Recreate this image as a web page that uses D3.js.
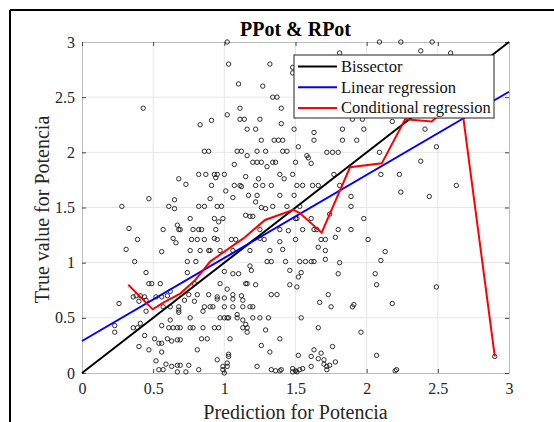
<!DOCTYPE html>
<html>
<head>
<meta charset="utf-8">
<script src="https://cdn.jsdelivr.net/npm/d3@7"></script>
<style>
  html, body { margin: 0; padding: 0; background: #fff; }
  svg { display: block; }
  svg text { font-family: "Liberation Serif", "Times New Roman", serif; }
</style>
</head>
<body>
<svg id="chart" width="554" height="422"></svg>
<script>
// Predicted vs. true values of Potencia: [prediction, true value]
const observations = [
  [1.02,3.00],[1.03,2.80],[1.32,2.80],[1.10,2.62],[1.27,2.60],[1.34,2.50],[1.37,2.50],[0.43,2.40],[1.11,2.40],[1.40,2.40],
  [1.02,2.34],[0.91,2.29],[0.83,2.25],[1.11,2.30],[1.14,2.30],[1.25,2.30],[1.40,2.26],[1.16,2.21],[1.22,2.21],[1.49,2.21],
  [1.26,2.11],[1.35,2.11],[1.38,2.11],[1.41,2.11],[1.52,2.05],[0.86,2.01],[0.89,2.01],[1.09,2.01],[1.12,2.01],[1.16,1.97],
  [1.23,2.01],[1.29,2.01],[1.41,2.01],[1.44,2.01],[1.20,1.91],[1.23,1.91],[1.26,1.91],[1.30,1.87],[1.34,1.91],[1.36,1.91],
  [1.50,1.91],[1.07,1.89],[0.82,1.80],[0.87,1.80],[0.93,1.80],[0.95,1.80],[1.00,1.80],[0.94,1.77],[1.15,1.78],[1.24,1.76],
  [1.39,1.80],[1.48,1.80],[1.42,1.76],[0.68,1.76],[0.73,1.71],[0.91,1.70],[1.07,1.70],[1.11,1.70],[1.12,1.69],[1.22,1.70],
  [1.27,1.70],[1.33,1.70],[1.01,1.65],[1.17,1.61],[1.23,1.61],[1.39,1.61],[1.49,1.61],[1.06,1.59],[0.47,1.58],[0.65,1.57],
  [0.90,1.58],
  [2.09,3.00],[2.24,3.00],[2.46,3.00],[1.81,2.90],[2.38,2.92],[2.59,2.90],[1.48,2.77],[1.48,2.72],[1.90,2.30],[1.97,2.30],
  [2.18,2.28],[1.63,2.18],[1.83,2.21],[1.98,2.21],[2.41,2.21],[1.63,2.11],[1.83,2.11],[1.93,2.11],[2.49,2.05],[1.72,2.00],
  [1.76,2.00],[1.80,2.00],[2.09,2.00],[1.58,1.97],[1.59,1.95],[1.61,1.90],[2.38,1.92],[1.77,1.80],[2.10,1.80],[2.23,1.80],
  [1.51,1.70],[1.55,1.70],[1.62,1.70],[1.66,1.70],[1.81,1.70],[2.63,1.70],[1.89,1.60],[2.24,1.64],[2.44,1.60],
  [0.28,1.51],[0.61,1.51],[0.65,1.49],[0.82,1.51],[0.86,1.51],[0.95,1.51],[0.98,1.51],[1.22,1.55],[1.26,1.50],[1.29,1.49],
  [1.34,1.51],[1.44,1.51],[0.33,1.31],[0.57,1.30],[0.67,1.34],[0.68,1.30],[0.69,1.30],[0.76,1.40],[0.78,1.30],[0.82,1.30],
  [0.84,1.30],[0.93,1.40],[0.96,1.37],[0.99,1.40],[0.94,1.30],[1.15,1.43],[1.18,1.42],[1.20,1.42],[1.25,1.30],[1.39,1.30],
  [1.45,1.29],[0.39,1.21],[0.64,1.22],[0.66,1.18],[0.77,1.21],[0.81,1.21],[0.86,1.21],[0.93,1.22],[0.95,1.21],[1.05,1.21],
  [1.08,1.21],[1.25,1.22],[1.28,1.21],[1.39,1.19],[0.31,1.12],[0.56,1.10],[0.76,1.11],[0.83,1.11],[0.89,1.11],[0.90,1.11],
  [0.97,1.11],[1.06,1.11],[1.18,1.11],[1.32,1.11],[1.41,1.12],[0.37,1.01],[0.74,1.01],[0.80,1.01],[1.00,0.92],[1.06,0.90],
  [1.10,0.90],[1.18,0.97],[1.19,0.93],[1.30,1.01],[1.33,1.01],[1.43,1.01],[1.46,0.93],[0.45,0.91],[0.74,0.91],[0.47,0.81],
  [0.49,0.81],[0.55,0.81],[0.79,0.81],[0.97,0.81],[1.02,0.76],[1.15,0.81],[1.16,0.81],[1.22,0.80],[1.46,0.80],[0.36,0.69],
  [0.38,0.70],[0.41,0.70],[0.44,0.69],[0.52,0.69],[0.56,0.69],[0.60,0.70],[0.62,0.74],[0.75,0.71],[0.81,0.71],[0.89,0.71],
  [0.95,0.69],[1.00,0.68],[1.06,0.71],[1.12,0.70],[1.33,0.71],[1.37,0.71],[0.26,0.63],[0.40,0.65],[0.45,0.66],[0.57,0.60],
  [0.62,0.60],[0.68,0.60],[0.72,0.66],[0.79,0.65],[0.86,0.60],[0.90,0.60],[0.92,0.60],[0.95,0.67],[1.00,0.60],[1.06,0.60],
  [1.13,0.60],[1.18,0.60],[1.20,0.60],[0.45,0.56],[0.68,0.57],[0.68,0.55],[0.85,0.56],[1.06,0.67],[1.13,0.66],[1.09,0.53],
  [0.62,0.48],[0.76,0.50],[0.97,0.50],[1.00,0.50],[1.02,0.50],[1.03,0.50],[1.09,0.50],[1.13,0.48],[1.15,0.44],[1.16,0.41],
  [1.20,0.50],[1.25,0.50],[1.31,0.50],[0.23,0.43],[0.23,0.37],[0.36,0.41],[0.39,0.41],[0.41,0.45],[0.44,0.34],[0.56,0.43],
  [0.61,0.41],[0.64,0.41],[0.67,0.41],[0.69,0.41],[0.76,0.41],[0.78,0.41],[0.85,0.41],[0.93,0.41],[0.96,0.41],[1.13,0.41],
  [0.51,0.31],[0.54,0.27],[0.56,0.27],[0.60,0.31],[0.63,0.29],[0.67,0.30],[0.69,0.30],[0.84,0.31],[0.88,0.31],[1.04,0.31],
  [1.16,0.37],[1.39,0.31],[1.29,0.39],[0.40,0.24],[0.47,0.21],[0.56,0.19],[0.81,0.21],[1.03,0.17],[1.03,0.15],[1.26,0.25],
  [1.32,0.19],[0.52,0.11],[0.59,0.08],[0.63,0.06],[0.67,0.07],[0.69,0.07],[0.75,0.07],[0.95,0.12],[1.02,0.09],[0.99,0.06],
  [1.02,0.06],[0.54,0.03],[0.57,0.03],[0.67,0.01],[0.73,0.01],[0.82,0.03],[0.99,0.03],[1.00,0.00],[1.23,0.06],[1.33,0.03],
  [1.36,0.02],[1.39,0.02],[1.40,0.03],[1.48,0.04],[1.51,0.01],
  [1.53,1.51],[1.89,1.51],[1.50,1.40],[1.51,1.40],[1.61,1.40],[1.74,1.44],[1.98,1.40],[1.55,1.30],[1.63,1.30],[1.65,1.30],
  [1.80,1.30],[1.89,1.30],[1.50,1.21],[1.68,1.21],[1.71,1.21],[1.78,1.23],[2.01,1.21],[1.66,1.14],[1.71,1.11],[2.13,1.10],
  [1.71,1.03],[2.10,1.02],[1.53,1.01],[1.57,1.01],[1.61,1.01],[1.63,1.01],[1.81,1.00],[1.54,0.91],[1.52,0.87],[1.80,0.90],
  [2.06,0.90],[1.51,0.78],[2.07,0.80],[2.49,0.78],[1.73,0.71],[1.67,0.64],[1.75,0.60],[1.91,0.62],[1.90,0.60],[2.18,0.63],
  [1.54,0.50],[1.66,0.41],[1.96,0.37],[1.76,0.24],[1.63,0.21],[1.68,0.18],[1.52,0.16],[1.61,0.15],[1.66,0.13],[1.70,0.12],
  [2.07,0.16],[1.70,0.08],[1.72,0.06],[1.74,0.07],[1.78,0.10],[1.61,0.06],[1.55,0.04],[1.53,0.03],[1.50,0.02],[1.48,0.01],
  [1.72,0.03],[2.21,0.03],[2.20,0.02],[2.90,0.15]
];

// Conditional regression curve (binned means)
const condX = [0.325, 0.497, 0.571, 0.69, 0.794, 0.90, 1.05, 1.134, 1.286, 1.485, 1.53, 1.684, 1.883, 2.106, 2.27, 2.457, 2.66, 2.90];
const condY = [0.80, 0.577, 0.637, 0.72, 0.84, 1.01, 1.145, 1.22, 1.387, 1.478, 1.45, 1.272, 1.865, 1.90, 2.30, 2.28, 2.50, 0.15];

// Ordinary least squares fit
const linIntercept = 0.29;
const linSlope = 0.753;

const axisTicks = [0, 0.5, 1, 1.5, 2, 2.5, 3];
const tickLabels = ["0", "0.5", "1", "1.5", "2", "2.5", "3"];

const legendItems = [
  { label: "Bissector", color: "#000000" },
  { label: "Linear regression", color: "#0000ff" },
  { label: "Conditional regression", color: "#ff0000" }
];

const W = 554, H = 422;
const margin = { top: 42, right: 45, bottom: 49, left: 82 };
const svg = d3.select("#chart");
const serif = '"Liberation Serif", "Times New Roman", serif';

const x = d3.scaleLinear().domain([0, 3]).range([margin.left, W - margin.right]);
const y = d3.scaleLinear().domain([0, 3]).range([H - margin.bottom, margin.top]);

// outer figure frame (top and left edges)
svg.append("line").attr("x1", 10).attr("x2", W).attr("y1", 10).attr("y2", 10)
  .attr("stroke", "#000").attr("stroke-width", 2);
svg.append("line").attr("x1", 10).attr("x2", 10).attr("y1", 10).attr("y2", H)
  .attr("stroke", "#000").attr("stroke-width", 2);

// grid
const grid = svg.append("g");
grid.selectAll(".gx").data(axisTicks.slice(1, -1)).join("line")
  .attr("x1", d => x(d)).attr("x2", d => x(d))
  .attr("y1", y(0)).attr("y2", y(3))
  .attr("stroke", "#e6e6e6").attr("stroke-width", 1);
grid.selectAll(".gy").data(axisTicks.slice(1, -1)).join("line")
  .attr("y1", d => y(d)).attr("y2", d => y(d))
  .attr("x1", x(0)).attr("x2", x(3))
  .attr("stroke", "#e6e6e6").attr("stroke-width", 1);

// axes with inward ticks on all four sides
const fmt = d => tickLabels[axisTicks.indexOf(d)];
const xAxis = svg.append("g").attr("transform", `translate(0,${y(0)})`)
  .call(d3.axisBottom(x).tickValues(axisTicks).tickFormat(fmt).tickSizeInner(-4).tickSizeOuter(0).tickPadding(10));
const yAxis = svg.append("g").attr("transform", `translate(${x(0)},0)`)
  .call(d3.axisLeft(y).tickValues(axisTicks).tickFormat(fmt).tickSizeInner(-4).tickSizeOuter(0).tickPadding(7));
const xTop = svg.append("g").attr("transform", `translate(0,${y(3)})`)
  .call(d3.axisTop(x).tickValues(axisTicks).tickFormat("").tickSizeInner(-4).tickSizeOuter(0));
const yRight = svg.append("g").attr("transform", `translate(${x(3)},0)`)
  .call(d3.axisRight(y).tickValues(axisTicks).tickFormat("").tickSizeInner(-4).tickSizeOuter(0));

[xAxis, yAxis, xTop, yRight].forEach(g => {
  g.attr("font-family", null).attr("font-size", null);
  g.select(".domain").attr("stroke", "#bdbdbd").attr("stroke-width", 1);
  g.selectAll(".tick line").attr("stroke", "#444").attr("stroke-width", 1);
  g.selectAll("text").style("font-family", serif)
    .style("font-size", "16px").attr("fill", "#262626");
});

// scatter markers
svg.append("g").selectAll("circle").data(observations).join("circle")
  .attr("cx", d => x(d[0])).attr("cy", d => y(d[1])).attr("r", 2.2)
  .attr("fill", "none").attr("stroke", "#1a1a1a").attr("stroke-width", 0.9);

// reference lines
const line = d3.line().x(d => x(d[0])).y(d => y(d[1]));
svg.append("path").datum([[0, 0], [3, 3]]).attr("d", line)
  .attr("fill", "none").attr("stroke", legendItems[0].color).attr("stroke-width", 2);
svg.append("path").datum([[0, linIntercept], [3, linIntercept + 3 * linSlope]]).attr("d", line)
  .attr("fill", "none").attr("stroke", legendItems[1].color).attr("stroke-width", 2);
svg.append("path").datum(condX.map((v, i) => [v, condY[i]])).attr("d", line)
  .attr("fill", "none").attr("stroke", legendItems[2].color).attr("stroke-width", 2)
  .attr("stroke-linejoin", "miter");

// title and axis labels
svg.append("text").attr("x", (x(0) + x(3)) / 2).attr("y", 36)
  .attr("text-anchor", "middle").attr("font-weight", "bold").attr("font-size", 20)
  .text("PPot & RPot");
svg.append("text").attr("x", (x(0) + x(3)) / 2).attr("y", 419)
  .attr("text-anchor", "middle").attr("font-size", 20).attr("fill", "#262626")
  .text("Prediction for Potencia");
svg.append("text").attr("transform", `translate(49,${(y(0) + y(3)) / 2 + 2}) rotate(-90)`)
  .attr("text-anchor", "middle").attr("font-size", 20).attr("fill", "#262626")
  .text("True value for Potencia");

// legend
const lg = svg.append("g").attr("transform", "translate(294,55)");
lg.append("rect").attr("width", 200).attr("height", 63)
  .attr("fill", "#fff").attr("stroke", "#222").attr("stroke-width", 1);
const rows = lg.selectAll("g.item").data(legendItems).join("g")
  .attr("transform", (d, i) => `translate(0,${11.5 + i * 20.7})`);
rows.append("line").attr("x1", 4).attr("x2", 43)
  .attr("stroke", d => d.color).attr("stroke-width", 2);
rows.append("text").attr("x", 47).attr("dy", "0.33em")
  .attr("font-size", 16.5).attr("fill", "#111").text(d => d.label);
</script>
</body>
</html>
